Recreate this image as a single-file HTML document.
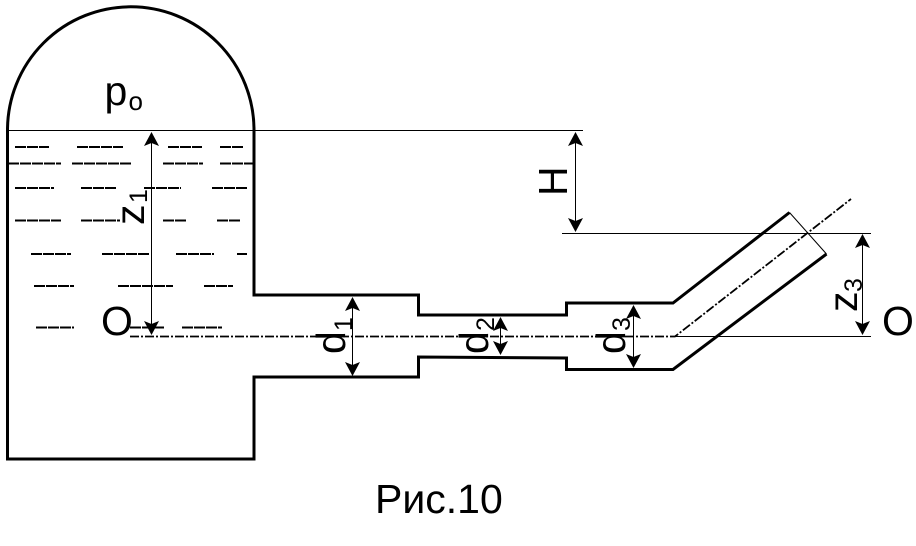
<!DOCTYPE html>
<html>
<head>
<meta charset="utf-8">
<style>
html,body{margin:0;padding:0;background:#fff;}
svg{display:block;}
text{font-family:"Liberation Sans",sans-serif;fill:#000;}
</style>
</head>
<body>
<svg width="916" height="546" viewBox="0 0 916 546" xmlns="http://www.w3.org/2000/svg">
<defs>
<path id="u" d="M0 0L7.500 14L0 11L-7.500 14Z" fill="#000"/>
<path id="d" d="M0 0L7.500 -14L0 -11L-7.500 -14Z" fill="#000"/>
</defs>

<g fill="none" stroke="#000" stroke-width="3">
<path d="M7.500 130A123 123 0 0 1 254 130V295H418.500V315H566.500V303H673L789.500 212.500"/>
<path d="M7.500 130V459H254V377H418.500V357L566.500 358V369.500H673L826.500 254"/>
</g>

<g fill="none" stroke="#000" stroke-width="1">
<path d="M7 130.500H583"/>
<path d="M562 233.500H871"/>
<path d="M675 336.500H871"/>
<path d="M789.500 212.500L826.500 254"/>
<path d="M151.500 135V331"/>
<path d="M575.500 135V228"/>
<path d="M862.500 238V332"/>
<path d="M352.500 300V373"/>
<path d="M500.500 320V352"/>
<path d="M633.500 308V366"/>
</g>

<path d="M130 336.500H675L851 199" fill="none" stroke="#000" stroke-width="1.800" stroke-dasharray="9 2 2 2"/>

<use href="#u" x="151.500" y="132"/><use href="#d" x="151.500" y="335"/>
<use href="#u" x="575.500" y="132"/><use href="#d" x="575.500" y="232"/>
<use href="#u" x="862.500" y="234"/><use href="#d" x="862.500" y="335"/>
<use href="#u" x="352.500" y="297"/><use href="#d" x="352.500" y="376"/>
<use href="#u" x="500.500" y="317"/><use href="#d" x="500.500" y="355"/>
<use href="#u" x="633.500" y="305"/><use href="#d" x="633.500" y="368"/>

<g fill="none" stroke="#000" stroke-width="2" stroke-dasharray="11 1">
<path d="M15 147H49M77 147H123M168 147H202M220 147H244"/>
<path d="M8 163.500H61M72 163.500H131M163 163.500H203M220 163.500H254"/>
<path d="M15 188H54M81 188H117M144 188H181M212 188H247"/>
<path d="M15 220.500H61M81 220.500H120M163 220.500H186M217 220.500H240"/>
<path d="M31 254H71M102 254H150M176 254H214M237 254H247"/>
<path d="M34 286H74M118 286H173M204 286H233"/>
<path d="M36 327.500H74M130 327.500H164M182 327.500H222"/>
</g>

<text x="104.500" y="105" font-size="41">p</text>
<text x="128.500" y="110" font-size="26">o</text>
<text x="101" y="335" font-size="41">O</text>
<text x="882" y="335" font-size="41">O</text>
<text x="375" y="513" font-size="41">Рис.10</text>

<text transform="translate(144 225) rotate(-90)" font-size="41">z</text>
<text transform="translate(147 203) rotate(-90)" font-size="25">1</text>
<text transform="translate(567 196) rotate(-90)" font-size="41">H</text>
<text transform="translate(345 354) rotate(-90)" font-size="41">d</text>
<text transform="translate(352 331) rotate(-90)" font-size="25">1</text>
<text transform="translate(488 354) rotate(-90)" font-size="41">d</text>
<text transform="translate(494 331) rotate(-90)" font-size="25">2</text>
<text transform="translate(625 354) rotate(-90)" font-size="41">d</text>
<text transform="translate(630 331) rotate(-90)" font-size="25">3</text>
<text transform="translate(857 312) rotate(-90)" font-size="41">z</text>
<text transform="translate(862 292) rotate(-90)" font-size="25">3</text>
</svg>
</body>
</html>
